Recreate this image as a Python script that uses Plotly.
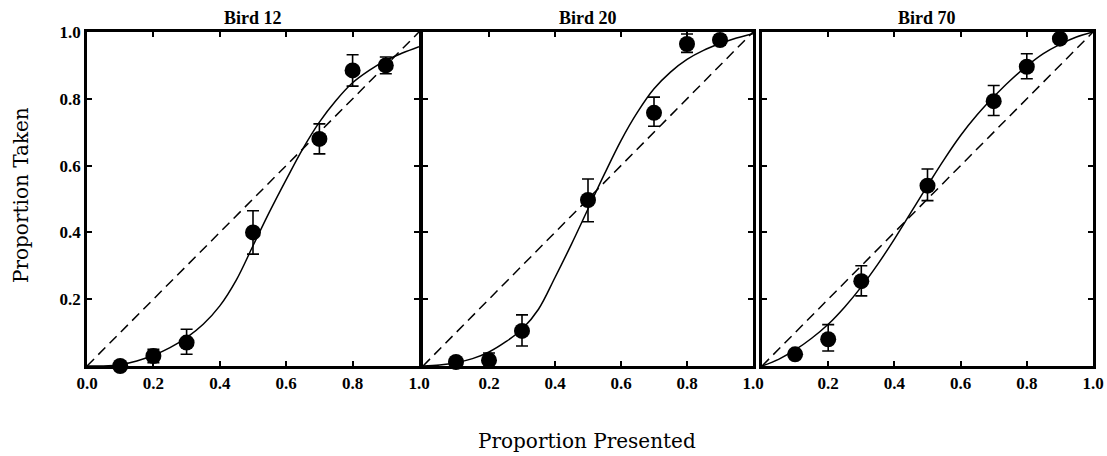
import plotly.graph_objects as go

# ---------------- data ----------------
birds = ["Bird 12", "Bird 20", "Bird 70"]
pres_x = [0.1, 0.2, 0.3, 0.5, 0.7, 0.8, 0.9]

b12_y = [0.0, 0.03, 0.07, 0.40, 0.68, 0.885, 0.90]
b12_up = [0.0, 0.02, 0.04, 0.065, 0.045, 0.047, 0.025]
b12_dn = [0.0, 0.02, 0.035, 0.065, 0.045, 0.047, 0.025]

b20_y = [0.012, 0.017, 0.105, 0.497, 0.758, 0.964, 0.976]
b20_up = [0.0, 0.022, 0.048, 0.063, 0.047, 0.03, 0.015]
b20_dn = [0.0, 0.0, 0.045, 0.065, 0.04, 0.025, 0.015]

b70_y = [0.035, 0.08, 0.254, 0.54, 0.793, 0.896, 0.98]
b70_up = [0.0, 0.044, 0.046, 0.05, 0.047, 0.039, 0.0]
b70_dn = [0.0, 0.035, 0.044, 0.045, 0.043, 0.036, 0.0]

fit_x = [0.0, 0.05, 0.1, 0.15, 0.2, 0.25, 0.3, 0.35, 0.4, 0.45, 0.5,
         0.55, 0.6, 0.65, 0.7, 0.75, 0.8, 0.85, 0.9, 0.95, 1.0]
b12_fit_y = [0.0, 0.0, 0.004, 0.015, 0.032, 0.055, 0.085, 0.125, 0.18, 0.258, 0.36,
             0.462, 0.558, 0.65, 0.73, 0.795, 0.848, 0.885, 0.915, 0.937, 0.956]
b20_fit_y = [0.0, 0.003, 0.01, 0.022, 0.042, 0.072, 0.11, 0.17, 0.265, 0.365, 0.47,
             0.575, 0.675, 0.76, 0.83, 0.88, 0.918, 0.945, 0.965, 0.982, 0.995]
b70_fit_y = [0.0, 0.02, 0.048, 0.083, 0.125, 0.177, 0.237, 0.305, 0.38, 0.46, 0.54,
             0.618, 0.69, 0.752, 0.806, 0.855, 0.898, 0.935, 0.963, 0.985, 1.0]

ident_x = [0.0, 1.0]
ident_y = [0.0, 1.0]

tick_vals = [0.0, 0.2, 0.4, 0.6, 0.8, 1.0]
x_labels_first = ["0.0", "0.2", "0.4", "0.6", "0.8", "1.0"]
x_labels_other = ["", "0.2", "0.4", "0.6", "0.8", "1.0"]
y_labels = ["", "0.2", "0.4", "0.6", "0.8", "1.0"]

x_title = "Proportion Presented"
y_title = "Proportion Taken"

# ---------------- figure ----------------
SERIF = "Liberation Serif"
WIDE_SERIF = "DejaVu Serif"
W, H = 1107, 456


def px_x(v):
    return v / W


def px_y(v):
    return 1 - v / H


x_domains = [[px_x(87), px_x(419)], [px_x(423), px_x(753)], [px_x(762), px_x(1093)]]
y_domain = [px_y(366), px_y(32)]

series = [
    (b12_y, b12_up, b12_dn, b12_fit_y),
    (b20_y, b20_up, b20_dn, b20_fit_y),
    (b70_y, b70_up, b70_dn, b70_fit_y),
]

fig = go.Figure()
for i, (yv, up, dn, fy) in enumerate(series):
    xa = "x" if i == 0 else f"x{i+1}"
    ya = "y" if i == 0 else f"y{i+1}"
    fig.add_trace(go.Scatter(x=ident_x, y=ident_y, mode="lines", xaxis=xa, yaxis=ya,
                             line=dict(color="black", width=1.5, dash="10px,6px"),
                             hoverinfo="skip", showlegend=False))
    fig.add_trace(go.Scatter(x=fit_x, y=fy, mode="lines", xaxis=xa, yaxis=ya,
                             line=dict(color="black", width=1.5, shape="spline", smoothing=1.0),
                             showlegend=False))
    fig.add_trace(go.Scatter(x=pres_x, y=yv, mode="markers", xaxis=xa, yaxis=ya,
                             marker=dict(color="black", size=16),
                             error_y=dict(type="data", array=up, arrayminus=dn, symmetric=False,
                                          color="black", thickness=1.6, width=6),
                             cliponaxis=False, showlegend=False))

tickfont = dict(family=SERIF, size=17, color="black", weight="bold")
layout = dict(
    width=W, height=H,
    margin=dict(l=0, r=0, t=0, b=0),
    paper_bgcolor="white", plot_bgcolor="white",
    showlegend=False,
)
for i in range(3):
    xk = "xaxis" if i == 0 else f"xaxis{i+1}"
    yk = "yaxis" if i == 0 else f"yaxis{i+1}"
    layout[xk] = dict(
        domain=x_domains[i], range=[0, 1], anchor="y" if i == 0 else f"y{i+1}",
        tickvals=tick_vals, ticktext=x_labels_first if i == 0 else x_labels_other,
        ticks="inside", ticklen=5, tickwidth=1.5, tickcolor="black",
        showline=True, linewidth=2.5, linecolor="black", mirror="ticks",
        showgrid=False, zeroline=False, tickfont=tickfont, automargin=False,
        fixedrange=True,
    )
    layout[yk] = dict(
        domain=y_domain, range=[0, 1], anchor="x" if i == 0 else f"x{i+1}",
        tickvals=tick_vals, ticktext=y_labels if i == 0 else [""] * 6,
        ticks="inside", ticklen=5, tickwidth=1.5, tickcolor="black",
        showline=True, linewidth=2.5, linecolor="black", mirror="ticks",
        showgrid=False, zeroline=False, tickfont=tickfont, automargin=False,
        fixedrange=True,
    )
fig.update_layout(**layout)

title_x = [(d[0] + d[1]) / 2 for d in x_domains]
for i, name in enumerate(birds):
    fig.add_annotation(text=f"<b>{name}</b>", x=title_x[i], y=px_y(18), xref="paper", yref="paper",
                       showarrow=False, font=dict(family=SERIF, size=18, color="black"),
                       xanchor="center", yanchor="middle")

fig.add_annotation(text=x_title, x=px_x(587), y=px_y(441), xref="paper", yref="paper",
                   showarrow=False, font=dict(family=WIDE_SERIF, size=20, color="black"),
                   xanchor="center", yanchor="middle")
fig.add_annotation(text=y_title, x=px_x(21), y=px_y(195), xref="paper", yref="paper",
                   showarrow=False, textangle=-90, font=dict(family=WIDE_SERIF, size=20, color="black"),
                   xanchor="center", yanchor="middle")

fig.write_html(
    "out.html",
    config={"displayModeBar": False},
    post_script="document.body.style.margin='0';document.body.style.overflow='hidden';",
)
